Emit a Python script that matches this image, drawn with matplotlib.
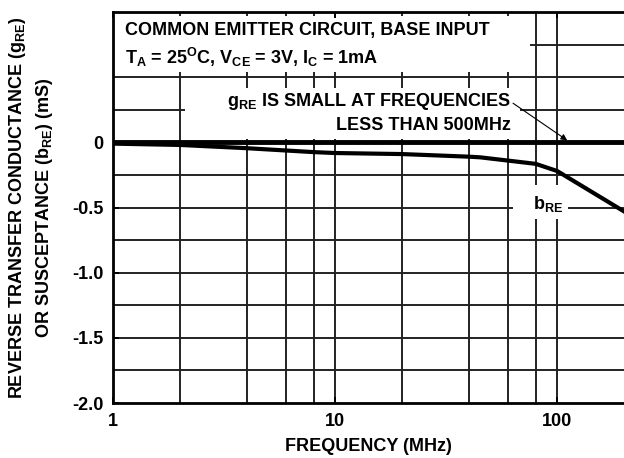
import matplotlib
matplotlib.use("Agg")
import matplotlib.pyplot as plt
from matplotlib.patches import Rectangle

plt.rcParams["font.family"] = ["Liberation Sans", "DejaVu Sans"]
plt.rcParams["font.weight"] = "bold"
plt.rcParams["axes.labelweight"] = "bold"
plt.rcParams["mathtext.fontset"] = "custom"
plt.rcParams["mathtext.rm"] = "Liberation Sans:bold"
plt.rcParams["mathtext.it"] = "Liberation Sans:bold"
plt.rcParams["mathtext.bf"] = "Liberation Sans:bold"
plt.rcParams["mathtext.default"] = "regular"

# ---------------------------------------------
# Daten
# ---------------------------------------------
freq_b = [1, 2, 4, 8, 10, 20, 40, 45, 80, 100, 200]
b_re = [-0.01, -0.02, -0.045, -0.075, -0.082, -0.09, -0.11, -0.115, -0.165, -0.22, -0.53]

freq_g = [1, 200]
g_re = [0.0, 0.0]

x_grid = [2, 4, 6, 8, 10, 20, 40, 60, 80, 100]
y_grid = [-1.75, -1.5, -1.25, -1.0, -0.75, -0.5, -0.25, 0.0, 0.25, 0.5, 0.75]
y_ticks = [0, -0.5, -1.0, -1.5, -2.0]
y_ticklabels = ["0", "-0.5", "-1.0", "-1.5", "-2.0"]
x_ticks = [1, 10, 100]
x_ticklabels = ["1", "10", "100"]

FS = 13

# ---------------------------------------------
# Plot
# ---------------------------------------------
fig = plt.figure(figsize=(6.24, 4.58), dpi=100)
ax = fig.add_axes([113 / 624, 55 / 458, 511 / 624, 391 / 458])
ax.set_xscale("log")
ax.set_xlim(1, 200)
ax.set_ylim(-2.0, 1.0)

# Gitter als Linien unter den Textboxen
for xv in x_grid:
    ax.axvline(xv, color="#222222", lw=1.4, zorder=0.8)
for yv in y_grid:
    ax.axhline(yv, color="#222222", lw=1.4, zorder=0.8)

# weisse Textboxen
ax.add_patch(Rectangle((1, 0.54), 74.5, 0.43, facecolor="white", edgecolor="none", zorder=1))
ax.add_patch(Rectangle((2.11, 0.025), 66, 0.395, facecolor="white", edgecolor="none", zorder=1))
ax.add_patch(Rectangle((63, -0.585), 49, 0.255, facecolor="white", edgecolor="none", zorder=1))

ax.plot(freq_g, g_re, color="black", lw=3.5, zorder=3, solid_capstyle="butt")
ax.plot(freq_b, b_re, color="black", lw=3.0, zorder=3)

ax.set_xticks(x_ticks)
ax.set_xticklabels(x_ticklabels)
ax.set_xticks([], minor=True)
ax.set_yticks(y_ticks)
ax.set_yticklabels(y_ticklabels)
ax.tick_params(axis="both", which="both", direction="in", length=4, width=1.4,
               top=True, right=False, labelsize=FS, pad=7)
for s in ["left", "bottom", "top"]:
    ax.spines[s].set_linewidth(2)
ax.spines["right"].set_visible(False)

ax.text(1.13, 0.86, "COMMON EMITTER CIRCUIT, BASE INPUT", fontsize=FS,
        ha="left", va="center", zorder=4)
ax.text(1.13, 0.65, "T$_{A}$ = 25$^{O}$C, V$_{CE}$ = 3V, I$_{C}$ = 1mA", fontsize=FS,
        ha="left", va="center", zorder=4)
ax.text(61.7, 0.31, "g$_{RE}$ IS SMALL AT FREQUENCIES", fontsize=FS,
        ha="right", va="center", zorder=4)
ax.text(61.7, 0.13, "LESS THAN 500MHz", fontsize=FS,
        ha="right", va="center", zorder=4)
ax.text(91, -0.47, "b$_{RE}$", fontsize=FS, ha="center", va="center", zorder=4)
ax.annotate("", xy=(111, 0.015), xytext=(63.3, 0.30),
            arrowprops=dict(arrowstyle="-|>", color="black", lw=0.8,
                            mutation_scale=9, shrinkA=0, shrinkB=0), zorder=4)

ax.set_xlabel("FREQUENCY (MHz)", fontsize=FS, labelpad=6)
yc = 1 - 207.5 / 458
fig.text(18 / 624, yc, "REVERSE TRANSFER CONDUCTANCE (g$_{RE}$)", rotation=90,
         fontsize=FS, ha="center", va="center")
fig.text(45 / 624, yc, "OR SUSCEPTANCE (b$_{RE}$) (mS)", rotation=90,
         fontsize=FS, ha="center", va="center")

plt.savefig("out.png", dpi=100)
